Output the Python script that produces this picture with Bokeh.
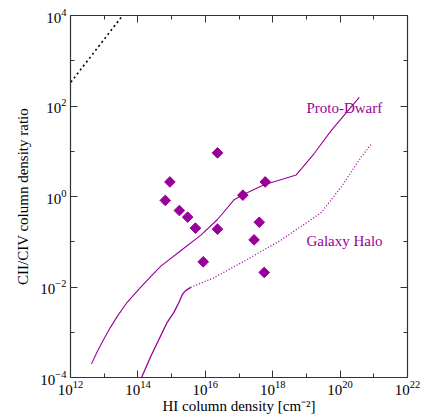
from bokeh.plotting import figure
from bokeh.models import LogAxis, FixedTicker, Range1d
from bokeh.core.properties import value
from bokeh.embed import file_html
from bokeh.resources import INLINE
import math

# Observed sightlines (HI column, CII/CIV ratio)
obs_hi = [2.3e16, 8.9e14, 6.0e17, 6.5e14, 1.3e17, 1.7e15, 3.0e15,
          5.1e15, 2.3e16, 4.0e17, 2.8e17, 8.7e15, 5.6e17]
obs_ratio = [9.2, 2.1, 2.1, 0.82, 1.07, 0.49, 0.35,
             0.20, 0.19, 0.27, 0.11, 0.036, 0.021]

# Proto-Dwarf model
pd_hi = [4.2e12, 6.2e12, 9.8e12, 1.55e13, 2.5e13, 4.8e13, 1.2e14, 2.4e14,
         4.8e14, 1.9e15, 7.4e15, 2.3e16, 7.2e16, 1.3e17, 5.6e17,
         5.0e18, 1.7e19, 5.5e19, 3.7e20]
pd_ratio = [2.0e-4, 3.7e-4, 7.1e-4, 1.3e-3, 2.3e-3, 4.6e-3, 9.8e-3, 1.7e-2,
            2.9e-2, 6.4e-2, 0.14, 0.31, 0.85, 1.09, 1.81,
            3.0, 8.9, 29, 155]

# Galaxy Halo model (steep part, then dotted part)
gh_hi_a = [1.12e14, 2.4e14, 4.8e14, 7.4e14, 1.17e15, 1.66e15, 2.1e15,
           2.6e15, 3.7e15]
gh_ratio_a = [7.9e-5, 2.9e-4, 8.5e-4, 1.66e-3, 2.75e-3, 4.6e-3, 6.9e-3,
              8.3e-3, 9.8e-3]
gh_hi_b = [3.7e15, 1.8e16, 1.8e17, 1.8e18, 2.75e19, 1.1e20, 4.3e20, 8.5e20]
gh_ratio_b = [9.8e-3, 1.6e-2, 4.1e-2, 0.11, 0.44, 1.66, 7.6, 14.5]

# black dotted guide lines
guide_hi = [8.3e9, 6.5e13]
guide_ratio = [3.3, 1.8e4]
guide2_hi = [4.3e20, 4.6e22]
guide2_ratio = [1.6e-5, 2.2e-4]

x_major = [1e12, 1e14, 1e16, 1e18, 1e20, 1e22]
x_minor = [1e13, 1e15, 1e17, 1e19, 1e21]
y_major = [1e-4, 1e-2, 1e0, 1e2, 1e4]
y_minor = [1e-3, 1e-1, 1e1, 1e3]

PURPLE = "#990099"
SERIF = "Liberation Serif"

p = figure(width=429, height=416, x_axis_type="log", y_axis_type="log",
           x_range=Range1d(1e12, 1e22), y_range=Range1d(1e-4, 1e4),
           output_backend="svg", toolbar_location=None,
           min_border_left=70, min_border_right=22, min_border_top=15,
           min_border_bottom=37)
p.outline_line_color = None
p.grid.visible = False
p.background_fill_color = "white"
p.border_fill_color = "white"

def style_axis(ax, major, minor):
    ax.ticker = FixedTicker(ticks=major, minor_ticks=minor)
    ax.major_tick_in = 7
    ax.major_tick_out = 0
    ax.minor_tick_in = 4
    ax.minor_tick_out = 0
    ax.axis_line_color = "#333333"
    ax.major_tick_line_color = "#333333"
    ax.minor_tick_line_color = "#333333"
    ax.axis_line_width = 1.2
    ax.major_label_text_font = SERIF
    ax.major_label_text_font_size = "15px"
    ax.major_label_text_color = "black"
    ax.axis_label_text_font = SERIF
    ax.axis_label_text_font_size = "15px"
    ax.axis_label_text_font_style = "normal"
    ax.axis_label_text_color = "black"

style_axis(p.xaxis[0], x_major, x_minor)
style_axis(p.yaxis[0], y_major, y_minor)
p.xaxis[0].axis_label = "HI column density [cm⁻²]"
p.yaxis[0].axis_label = "CII/CIV column density ratio"
p.xaxis[0].major_label_standoff = 3
p.xaxis[0].axis_label_standoff = 0
p.yaxis[0].major_label_standoff = 4
p.yaxis[0].axis_label_standoff = 6

top = LogAxis()
style_axis(top, x_major, x_minor)
top.major_label_overrides = {v: "" for v in x_major}
top.major_label_standoff = 0
p.add_layout(top, "above")
right = LogAxis()
style_axis(right, y_major, y_minor)
right.major_label_overrides = {v: "" for v in y_major}
right.major_label_standoff = 0
p.add_layout(right, "right")

p.line(guide_hi, guide_ratio, line_color="black", line_width=1.6,
       line_dash="2 3")
p.line(guide2_hi, guide2_ratio, line_color="black", line_width=1.6,
       line_dash="2 3")

p.line(pd_hi, pd_ratio, line_color=PURPLE, line_width=1.1,
       line_join="round")
p.line(gh_hi_a, gh_ratio_a, line_color=PURPLE, line_width=1.3,
       line_join="round")
p.line(gh_hi_b, gh_ratio_b, line_color=PURPLE, line_width=1.3,
       line_dash="1 2")

p.scatter(obs_hi, obs_ratio, marker="square", angle=math.pi / 4, size=7.5,
          fill_color=PURPLE, line_color=PURPLE)

p.text(x=[1.0e19], y=[92], text=["Proto-Dwarf"], text_color=PURPLE,
       text_font=value(SERIF), text_font_size="15px",
       text_baseline="alphabetic", text_align="left")
p.text(x=[1.0e19], y=[0.105], text=["Galaxy Halo"], text_color=PURPLE,
       text_font=value(SERIF), text_font_size="15px",
       text_baseline="alphabetic", text_align="left")

open("out.html", "w").write(file_html(p, INLINE))
